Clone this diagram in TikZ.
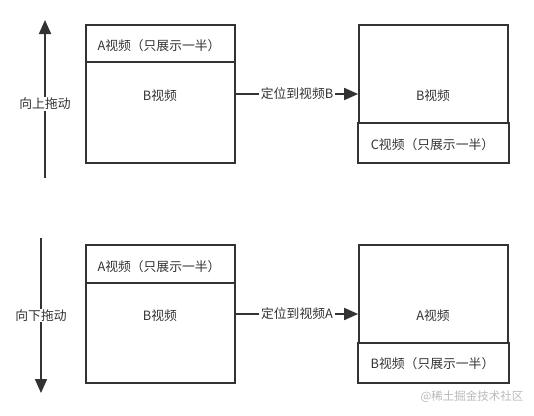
\documentclass[tikz,border=0pt]{standalone}
\usepackage{fontspec}
\setmainfont{Noto Sans CJK SC}
\usetikzlibrary{arrows.meta}
\definecolor{ink}{HTML}{333333}
\tikzset{
  frame/.style={draw=ink, line width=1.7pt, inner sep=0pt},
  txt/.style={text=ink, font=\fontsize{12.8}{15}\selectfont, inner sep=1pt},
  drag/.style={draw=ink, line width=1.7pt, -{Triangle[length=14pt,width=12pt]}},
}
\begin{document}
\begin{tikzpicture}[x=1pt, y=-1pt]
        \useasboundingbox (0,0) rectangle (534,415);
        % upper row
        \node [frame, minimum width=149, minimum height=37] (a1) at (160.5,43.5) {};
        \node [frame, minimum width=149, minimum height=101] (b1) at (160.5,112.5) {};
        \node [frame, minimum width=149, minimum height=98] (b2) at (433.5,74) {};
        \node [frame, minimum width=151, minimum height=40] (c2) at (433.5,143) {};
        \node [txt] (ta1) at (159,46) {A视频（只展示一半）};
        \node [txt] (tb1) at (160,96) {B视频};
        \node [txt] (tb2) at (433,96) {B视频};
        \node [txt] (tc2) at (432.5,145) {C视频（只展示一半）};
        \coordinate (up1s) at (45,178);
        \coordinate (up1e) at (45,20);
        \draw [drag] (up1s) -- node [txt, fill=white, pos=0.47] (up1) {向上拖动} (up1e);
        \draw [drag] (b1.east |- 0,94) -- node [txt, fill=white, inner sep=2pt] (go1) {定位到视频B} (b2.west |- 0,94);
        % lower row
        \node [frame, minimum width=149, minimum height=38] (a3) at (160.5,264) {};
        \node [frame, minimum width=149, minimum height=100] (b3) at (160.5,333) {};
        \node [frame, minimum width=149, minimum height=98] (a4) at (433.5,294) {};
        \node [frame, minimum width=151, minimum height=40] (b4) at (433.5,363) {};
        \node [txt] (ta3) at (159,267) {A视频（只展示一半）};
        \node [txt] (tb3) at (160,316) {B视频};
        \node [txt] (ta4) at (433,316) {A视频};
        \node [txt] (tb4) at (432.5,364) {B视频（只展示一半）};
        \coordinate (dn1s) at (41,238);
        \coordinate (dn1e) at (41,393);
        \draw [drag] (dn1s) -- node [txt, fill=white, pos=0.5] (dn1) {向下拖动} (dn1e);
        \draw [drag] (b3.east |- 0,314) -- node [txt, fill=white, inner sep=2pt] (go2) {定位到视频A} (a4.west |- 0,314);
        \node [txt, text=gray!55, font=\fontsize{11.5}{13}\selectfont] (mark) at (472,397) {@稀土掘金技术社区};
\end{tikzpicture}
\end{document}
